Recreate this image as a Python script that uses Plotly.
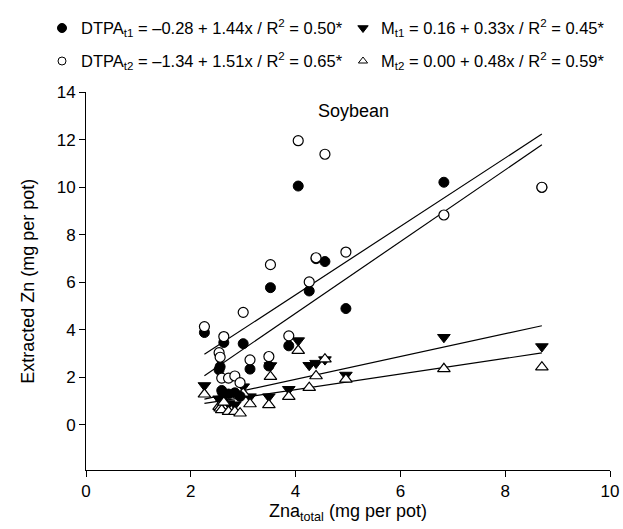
import plotly.graph_objects as go

# ---------------- data ----------------
x_vals = [2.26, 2.54, 2.56, 2.59, 2.63, 2.72, 2.84, 2.94, 3.00, 3.13, 3.49, 3.52,
          3.87, 4.05, 4.26, 4.39, 4.56, 4.96, 6.83, 8.70]

dtpa_t1 = [3.89, 2.32, 2.45, 1.45, 3.47, 1.30, 1.35, 1.20, 3.42, 2.35, 2.48, 5.78,
           3.33, 10.06, 5.64, 7.00, 6.88, 4.90, 10.22, 10.00]
dtpa_t2 = [4.14, 3.04, 2.85, 1.97, 3.72, 1.97, 2.06, 1.78, 4.74, 2.74, 2.88, 6.75,
           3.75, 11.97, 6.02, 7.04, 11.40, 7.28, 8.84, 10.01]
m_t1 = [1.66, 1.10, 1.05, 0.95, 1.20, 0.90, 0.85, 1.25, 1.61, 1.19, 1.19, 2.50,
        1.50, 3.55, 2.51, 2.60, 2.75, 2.10, 3.69, 3.30]
m_t2 = [1.29, 0.77, 0.70, 0.63, 0.95, 0.56, 0.56, 0.49, 1.33, 0.88, 0.84, 2.03,
        1.19, 3.13, 1.57, 2.06, 2.77, 1.92, 2.36, 2.43]

# regression equations given in the legend: intercept, slope
fit_names = ["DTPA_t1", "DTPA_t2", "M_t1", "M_t2"]
fit_intercepts = [-0.28, -1.34, 0.16, 0.00]
fit_slopes = [1.44, 1.51, 0.33, 0.48]

legend_texts = [
    "DTPA<sub>t1</sub> = \u20130.28 + 1.44x / R<sup>2</sup> = 0.50*",
    "M<sub>t1</sub> = 0.16 + 0.33x / R<sup>2</sup> = 0.45*",
    "DTPA<sub>t2</sub> = \u20131.34 + 1.51x / R<sup>2</sup> = 0.65*",
    "M<sub>t2</sub> = 0.00 + 0.48x / R<sup>2</sup> = 0.59*",
]

x_ticks = [0, 2, 4, 6, 8, 10]
y_ticks = [0, 2, 4, 6, 8, 10, 12, 14]

FONT = "Liberation Sans, Arial, Helvetica, sans-serif"

fig = go.Figure()

# regression lines
xmin, xmax = min(x_vals), max(x_vals)
for a, b in zip(fit_intercepts, fit_slopes):
    fig.add_trace(go.Scatter(
        x=[xmin, xmax], y=[a + b * xmin, a + b * xmax],
        mode="lines", line=dict(color="black", width=1.2),
        showlegend=False, hoverinfo="skip"))

# scatter series
series = [
    (m_t1, dict(symbol="triangle-down", size=11, color="black",
                line=dict(color="black", width=1))),
    (m_t2, dict(symbol="triangle-up", size=11, color="white",
                line=dict(color="black", width=1.2))),
    (dtpa_t1, dict(symbol="circle", size=10, color="black",
                   line=dict(color="black", width=1))),
    (dtpa_t2, dict(symbol="circle", size=10, color="white",
                   line=dict(color="black", width=1.2))),
]
for ys, mk in series:
    fig.add_trace(go.Scatter(x=x_vals, y=ys, mode="markers", marker=mk,
                             showlegend=False, cliponaxis=False))

# legend keys drawn on a hidden helper axis in the top margin
key_markers = [
    dict(symbol="circle", size=9, color="black", line=dict(color="black", width=1)),
    dict(symbol="triangle-down", size=9, color="black", line=dict(color="black", width=1)),
    dict(symbol="circle", size=8, color="white", line=dict(color="black", width=1)),
    dict(symbol="triangle-up", size=8, color="white", line=dict(color="black", width=1)),
]
key_x = [-24, 277, -24, 277]
key_y = [28, 28, 61, 61]
text_x = [-7, 293, -7, 293]
for mk, kx, ky in zip(key_markers, key_x, key_y):
    fig.add_trace(go.Scatter(x=[kx], y=[ky], mode="markers", marker=mk,
                             xaxis="x2", yaxis="y2", showlegend=False,
                             cliponaxis=False, hoverinfo="skip"))

annotations = []
for t, tx, ty in zip(legend_texts, text_x, key_y):
    annotations.append(dict(text=t, x=tx, y=ty, xref="x2", yref="y2",
                            xanchor="left", yanchor="middle", showarrow=False,
                            font=dict(family=FONT, size=16.5, color="black")))
annotations.append(dict(text="Soybean", x=0.511, y=0.951, xref="x domain",
                        yref="y domain", xanchor="center", yanchor="middle",
                        showarrow=False,
                        font=dict(family=FONT, size=18, color="black")))

L = 40
plot_w = 623 - L - 13
fig.update_layout(
    width=623, height=529,
    margin=dict(l=L, r=13, t=0, b=59, autoexpand=False),
    paper_bgcolor="white", plot_bgcolor="white",
    font=dict(family=FONT, size=17, color="black"),
    showlegend=False,
    annotations=annotations,
    xaxis=dict(range=[0, 10], tickvals=x_ticks, ticks="outside", ticklen=6,
               tickwidth=1, tickcolor="black", showline=True, linecolor="black",
               linewidth=1, showgrid=False, zeroline=False,
               domain=[(86 - L) / plot_w, 1],
               anchor="y", tickfont=dict(family=FONT, size=17),
               title=dict(text="Zna<sub>total</sub> (mg per pot)", standoff=3,
                          font=dict(family=FONT, size=18))),
    yaxis=dict(range=[-1.9, 14], tickvals=y_ticks, ticks="outside", ticklen=6,
               tickwidth=1, tickcolor="black", showline=True, linecolor="black",
               linewidth=1, showgrid=False, zeroline=False,
               domain=[0, 0.8032], anchor="x", tickfont=dict(family=FONT, size=17),
               title=dict(text="Extracted Zn (mg per pot)", standoff=17,
                          font=dict(family=FONT, size=18))),
    xaxis2=dict(range=[L - 86, 524], domain=[0, 1], anchor="y2", visible=False,
                fixedrange=True),
    yaxis2=dict(range=[70.5, 0], domain=[0.85, 1], anchor="x2", visible=False,
                fixedrange=True),
)

fig.write_html("out.html", config={"displayModeBar": False},
               post_script="document.body.style.margin='0px';")
